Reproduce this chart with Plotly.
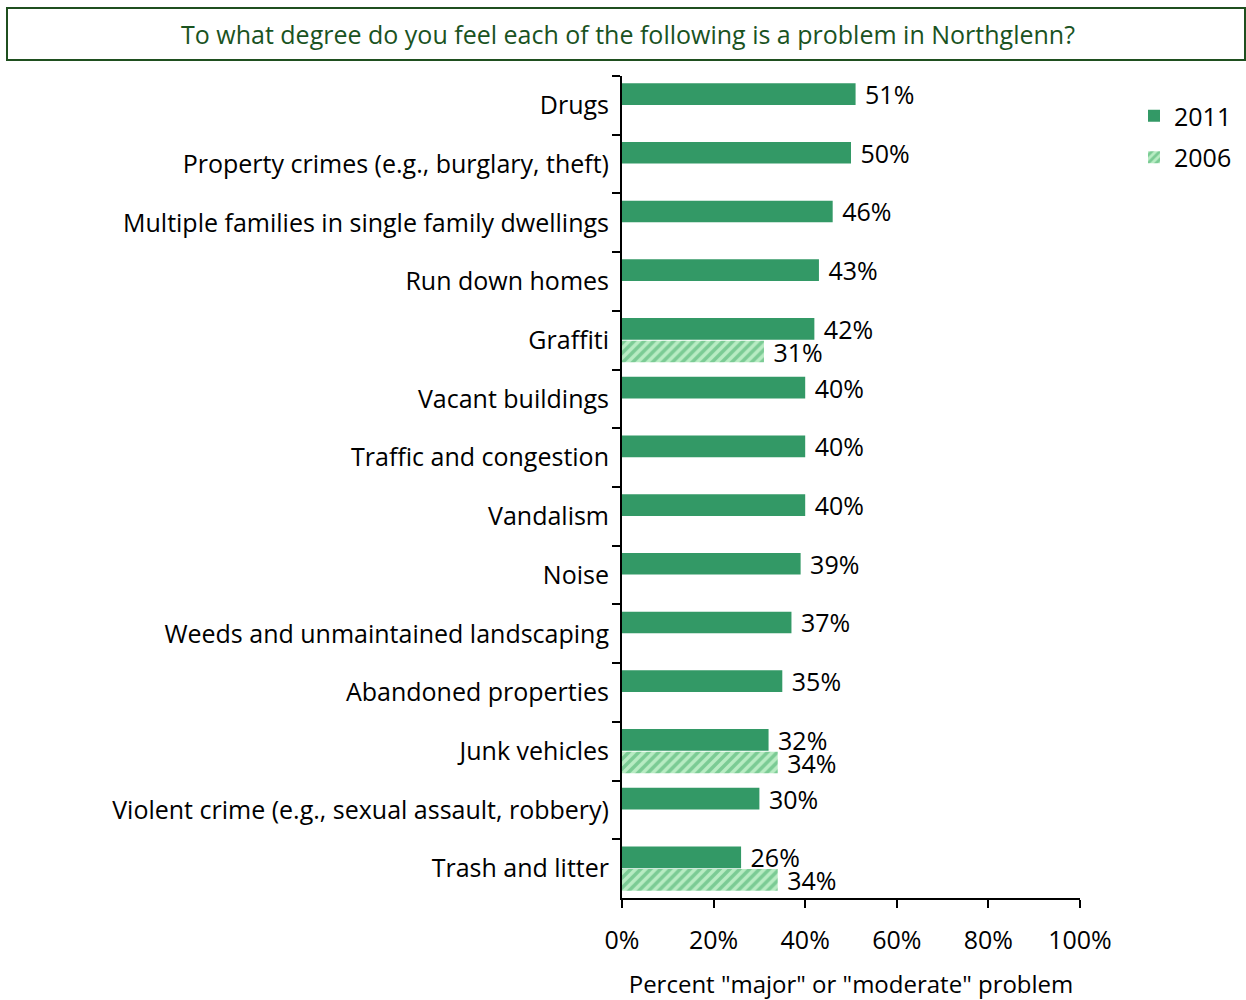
import plotly.graph_objects as go

categories = [
    "Drugs",
    "Property crimes (e.g., burglary, theft)",
    "Multiple families in single family dwellings",
    "Run down homes",
    "Graffiti",
    "Vacant buildings",
    "Traffic and congestion",
    "Vandalism",
    "Noise",
    "Weeds and unmaintained landscaping",
    "Abandoned properties",
    "Junk vehicles",
    "Violent crime (e.g., sexual assault, robbery)",
    "Trash and litter",
]
values_2011 = [51, 50, 46, 43, 42, 40, 40, 40, 39, 37, 35, 32, 30, 26]
values_2006 = [None, None, None, None, 31, None, None, None, None, None, None, 34, None, 34]
x_ticks = [0, 20, 40, 60, 80, 100]
x_tick_labels = ["0%", "20%", "40%", "60%", "80%", "100%"]

FONT = "Open Sans"
FS = 25
W, H = 1246, 1000
L, R, T, B = 622, W - 1080, 76, H - 898


def labels(vals):
    return [(" " + str(v) + "%") if v is not None else "" for v in vals]


fig = go.Figure()
fig.add_trace(go.Bar(
    y=categories, x=values_2011, orientation="h", name="2011",
    marker=dict(color="#339966", line=dict(width=0)),
    text=labels(values_2011), textposition="outside", constraintext="none",
    textfont=dict(family=FONT, size=FS, color="black"),
    cliponaxis=False, legendgroup="a", hoverinfo="x+y",
))
fig.add_trace(go.Bar(
    y=categories, x=values_2006, orientation="h", name="2006",
    marker=dict(color="#b8ecc3", line=dict(width=0),
                pattern=dict(shape="/", fgcolor="#3daa66", size=7, solidity=0.5, fillmode="overlay")),
    text=labels(values_2006), textposition="outside", constraintext="none",
    textfont=dict(family=FONT, size=FS, color="black"),
    cliponaxis=False, legendgroup="b", hoverinfo="x+y",
))

fig.add_shape(type="rect", xref="paper", yref="paper",
              x0=(7 - L) / (W - L - R), x1=(1245 - L) / (W - L - R),
              y0=(H - B - 60) / (H - T - B), y1=(H - B - 8) / (H - T - B),
              line=dict(color="#1f4f1f", width=2))
fig.add_annotation(xref="paper", yref="paper",
                   x=(628 - L) / (W - L - R), y=(H - B - 34) / (H - T - B),
                   text="To what degree do you feel each of the following is a problem in Northglenn?",
                   showarrow=False, xanchor="center", yanchor="middle",
                   font=dict(family=FONT, size=FS, color="#1a531f"))

fig.update_layout(
    width=W, height=H,
    margin=dict(l=L, r=R, t=T, b=B, pad=0, autoexpand=False),
    paper_bgcolor="white", plot_bgcolor="white",
    barmode="group", bargap=0.23, bargroupgap=0.04,
    font=dict(family=FONT, size=FS, color="black"),
    showlegend=True,
    legend=dict(xref="container", yref="container",
                x=1134 / W, y=1 - 93 / H, xanchor="left", yanchor="top",
                font=dict(family=FONT, size=FS, color="black"),
                traceorder="grouped", tracegroupgap=6, bgcolor="rgba(0,0,0,0)"),
    xaxis=dict(range=[0, 100], tickvals=x_ticks, ticktext=x_tick_labels,
               showgrid=False, zeroline=False, showline=True, linecolor="black", linewidth=2,
               ticks="outside", ticklen=8, tickwidth=2, tickcolor="black",
               ticklabelstandoff=11, automargin=False,
               title=dict(text='Percent "major" or "moderate" problem', standoff=25,
                          font=dict(family=FONT, size=24, color="black"))),
    yaxis=dict(categoryorder="array", categoryarray=categories, autorange="reversed",
               showgrid=False, zeroline=False, showline=True, linecolor="black", linewidth=2,
               ticks="outside", ticklen=8, tickwidth=2, tickcolor="black",
               tickson="boundaries", ticklabelstandoff=6, automargin=False),
)

fig.write_html("out.html", config={"displayModeBar": False},
               post_script="document.body.style.margin='0';document.body.style.overflow='hidden';")
